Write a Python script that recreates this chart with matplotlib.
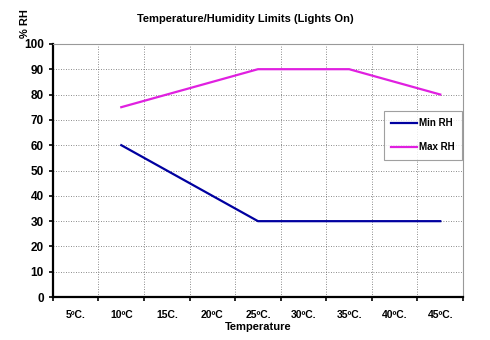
import numpy as np
import matplotlib
matplotlib.use("Agg")
import matplotlib.pyplot as plt

categories = ["5ºC.", "10ºC", "15C.", "20ºC", "25ºC.", "30ºC.", "35ºC.", "40ºC.", "45ºC."]
min_rh = [np.nan, 60, 50, 40, 30, 30, 30, 30, 30]
max_rh = [np.nan, 75, 80, 85, 90, 90, 90, 85, 80]

plt.rcParams['font.family'] = ['Liberation Sans', 'DejaVu Sans']
plt.rcParams['font.weight'] = 'bold'

fig = plt.figure(figsize=(4.9, 3.4), dpi=100)
ax = fig.add_axes([0.108, 0.126, 0.837, 0.745])

x = np.arange(len(categories))
ax.plot(x, min_rh, color='#0000a0', lw=1.6, label='Min RH')
ax.plot(x, max_rh, color='#e020e0', lw=1.6, label='Max RH')

ax.set_xlim(-0.5, len(categories) - 0.5)
ax.set_ylim(0, 100)
ax.set_yticks(range(0, 101, 10))
ax.set_xticks(x)
ax.set_xticklabels(categories, fontsize=7.5, fontweight='bold')
ax.set_xticks(np.arange(-0.5, len(categories)), minor=True)
ax.tick_params(axis='x', which='major', length=0, pad=9)
ax.tick_params(axis='x', which='minor', length=3, width=1.2, direction='out')
ax.tick_params(axis='y', length=3, width=1.2, labelsize=8.5)
for t in ax.get_yticklabels():
    t.set_fontweight('bold')

ax.grid(True, axis='y', which='major', color='#666666', ls=(0, (1, 2)), lw=0.6)
ax.grid(True, axis='x', which='minor', color='#666666', ls=(0, (1, 2)), lw=0.6)

ax.spines['left'].set_linewidth(1.6)
ax.spines['bottom'].set_linewidth(1.6)
ax.spines['top'].set_color('#999999')
ax.spines['right'].set_color('#999999')
ax.spines['top'].set_linewidth(0.8)
ax.spines['right'].set_linewidth(0.8)

ax.set_xlabel('Temperature', fontsize=8, fontweight='bold', labelpad=2)
fig.text(0.5, 0.945, 'Temperature/Humidity Limits (Lights On)', ha='center', va='center',
         fontsize=8, fontweight='bold')
fig.text(0.05, 0.93, '% RH', rotation=90, ha='center', va='center', fontsize=8, fontweight='bold')

leg = ax.legend(loc='upper right', bbox_to_anchor=(1.0, 0.74), fontsize=7, frameon=True,
                fancybox=False, edgecolor='#888888', handlelength=2.6, labelspacing=1.4,
                borderpad=0.8, handletextpad=0.2, borderaxespad=0.1)
leg.get_frame().set_linewidth(0.8)
for t in leg.get_texts():
    t.set_fontweight('bold')

fig.savefig('out.png', dpi=100)
